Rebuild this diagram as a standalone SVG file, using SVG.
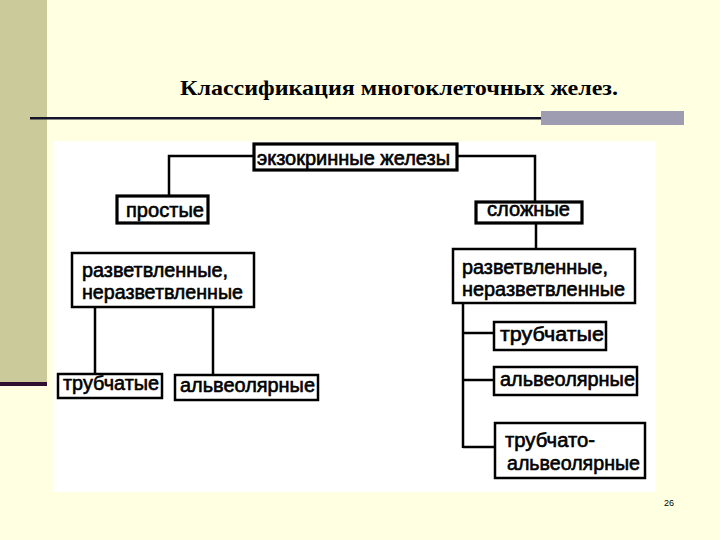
<svg xmlns="http://www.w3.org/2000/svg" width="720" height="540" viewBox="0 0 720 540">
<style>
.box{fill:#ffffff;stroke:#000000;stroke-width:2.5}
.thick{stroke-width:3.2}
.lbl{font-family:"Liberation Sans",Arial,sans-serif;font-size:20px;fill:#000000;stroke:#000000;stroke-width:0.6}
.con{fill:none;stroke:#000000;stroke-width:2.5}
.title{font-family:"Liberation Serif","Times New Roman",serif;font-weight:bold;font-size:22px;fill:#000000}
</style>
<rect x="0" y="0" width="720" height="540" fill="#FFFFE1"/>
<rect x="0" y="0" width="47" height="383" fill="#CACA9A"/>
<rect x="0" y="382" width="47" height="4" fill="#2E1030"/>
<text class="title" x="180" y="95" textLength="438" lengthAdjust="spacingAndGlyphs">Классификация многоклеточных желез.</text>
<rect x="30" y="117" width="512" height="2.5" fill="#14142A"/>
<rect x="541" y="111" width="143" height="14" fill="#9E9CB0"/>
<rect x="53" y="141" width="603" height="351" fill="#FFFFFF"/>
<g id="connectors">
<polyline class="con" points="254,156 169,156 169,196"/>
<polyline class="con" points="457,156 535,156 535,202"/>
<line class="con" x1="536" y1="223" x2="536" y2="249"/>
<line class="con" x1="95" y1="307" x2="95" y2="374"/>
<line class="con" x1="213" y1="307" x2="213" y2="375"/>
<line class="con" x1="463" y1="303" x2="463" y2="448"/>
<line class="con" x1="463" y1="333" x2="494" y2="333"/>
<line class="con" x1="463" y1="380" x2="494" y2="380"/>
<line class="con" x1="463" y1="447" x2="495" y2="447"/>
</g>
<g id="exocrine">
<rect class="box thick" x="254" y="144" width="203" height="26"/>
<text class="lbl" x="257" y="165" textLength="193" lengthAdjust="spacingAndGlyphs">экзокринные железы</text>
</g>
<g id="simple">
<rect class="box thick" x="117" y="196" width="91" height="27"/>
<text class="lbl" x="126" y="217" textLength="78" lengthAdjust="spacingAndGlyphs">простые</text>
</g>
<g id="complex">
<rect class="box thick" x="476" y="202" width="106" height="21"/>
<text class="lbl" x="487" y="216" textLength="83" lengthAdjust="spacingAndGlyphs">сложные</text>
</g>
<g id="branched-left">
<rect class="box" x="72" y="253" width="182" height="54"/>
<text class="lbl" x="82" y="277" textLength="146" lengthAdjust="spacingAndGlyphs">разветвленные,</text>
<text class="lbl" x="82" y="299" textLength="161" lengthAdjust="spacingAndGlyphs">неразветвленные</text>
</g>
<g id="branched-right">
<rect class="box" x="453" y="249" width="182" height="54"/>
<text class="lbl" x="462" y="274" textLength="146" lengthAdjust="spacingAndGlyphs">разветвленные,</text>
<text class="lbl" x="462" y="296" textLength="163" lengthAdjust="spacingAndGlyphs">неразветвленные</text>
</g>
<g id="tubular-left">
<rect class="box" x="58" y="374" width="104" height="24"/>
<text class="lbl" x="63" y="390" textLength="96" lengthAdjust="spacingAndGlyphs">трубчатые</text>
</g>
<g id="alveolar-left">
<rect class="box" x="175" y="375" width="143" height="25"/>
<text class="lbl" x="180" y="392" textLength="135" lengthAdjust="spacingAndGlyphs">альвеолярные</text>
</g>
<g id="tubular-right">
<rect class="box" x="494" y="322" width="112" height="28"/>
<text class="lbl" x="500" y="341" textLength="104" lengthAdjust="spacingAndGlyphs">трубчатые</text>
</g>
<g id="alveolar-right">
<rect class="box" x="494" y="367" width="143" height="28"/>
<text class="lbl" x="500" y="386" textLength="135" lengthAdjust="spacingAndGlyphs">альвеолярные</text>
</g>
<g id="tubuloalveolar">
<rect class="box" x="495" y="423" width="150" height="55"/>
<text class="lbl" x="505" y="447" textLength="90" lengthAdjust="spacingAndGlyphs">трубчато-</text>
<text class="lbl" x="507" y="470" textLength="133" lengthAdjust="spacingAndGlyphs">альвеолярные</text>
</g>
<text x="664" y="506" font-family="Liberation Sans,Arial,sans-serif" font-size="9" fill="#000000">26</text>
</svg>
